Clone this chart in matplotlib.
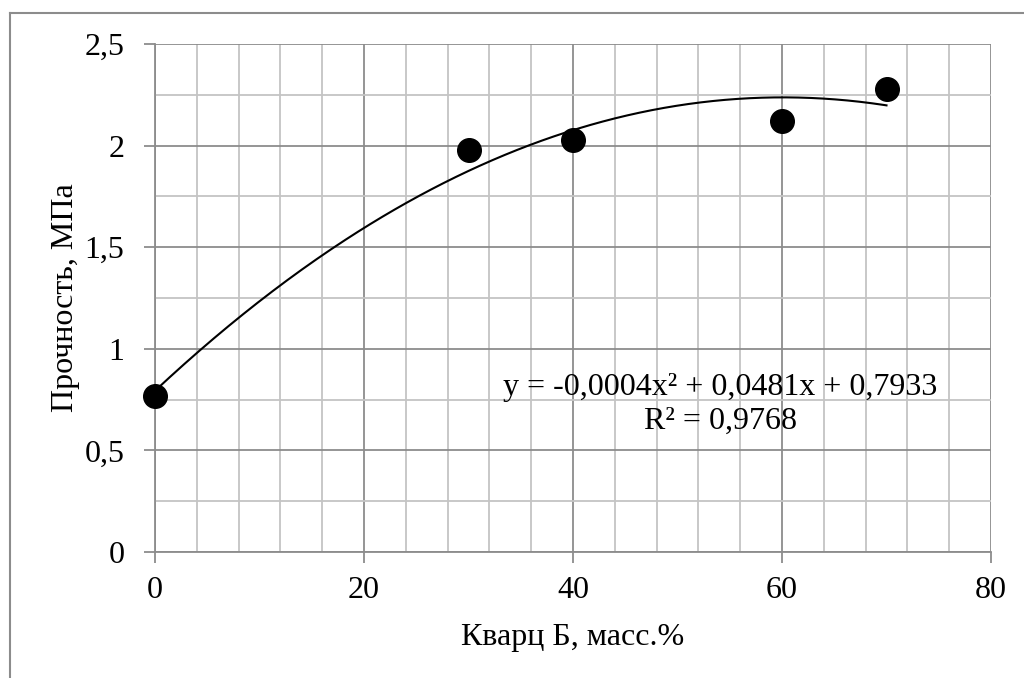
import numpy as np
import matplotlib
matplotlib.use("Agg")
import matplotlib.pyplot as plt
from matplotlib.ticker import MultipleLocator, FuncFormatter
from matplotlib.lines import Line2D

# Data
x_vals = [0, 30, 40, 60, 70]
y_vals = [0.77, 1.98, 2.03, 2.12, 2.28]
x_label = "Кварц Б, масс.%"
y_label = "Прочность, МПа"
eq_text = "y = -0,0004x² + 0,0481x + 0,7933"
r2_text = "R² = 0,9768"

plt.rcParams['font.family'] = ['Liberation Serif', 'DejaVu Serif']
FS = 23

fig = plt.figure(figsize=(10.24, 6.78), dpi=100)
ax = fig.add_axes([155/1024, 1-552/678, (991-155)/1024, (552-44)/678])

# trendline (2nd order polynomial fit)
coef = np.polyfit(x_vals, y_vals, 2)
xs = np.linspace(min(x_vals), max(x_vals), 300)
ax.plot(xs, np.polyval(coef, xs), color='black', lw=1.5, zorder=3)
ax.plot(x_vals, y_vals, 'o', color='black', ms=17, zorder=4, clip_on=False)

ax.set_xlim(0, 80)
ax.set_ylim(0, 2.5)
ax.xaxis.set_major_locator(MultipleLocator(20))
ax.xaxis.set_minor_locator(MultipleLocator(4))
ax.yaxis.set_major_locator(MultipleLocator(0.5))
ax.yaxis.set_minor_locator(MultipleLocator(0.25))

def fmt(v, pos):
    s = f"{v:g}"
    return s.replace('.', ',')
ax.xaxis.set_major_formatter(FuncFormatter(fmt))
ax.yaxis.set_major_formatter(FuncFormatter(fmt))

ax.grid(which='major', color='#8c8c8c', lw=1.3)
ax.grid(which='minor', color='#c4c4c4', lw=1.3)
ax.set_axisbelow(True)
for s in ['top', 'right']:
    ax.spines[s].set_visible(False)
for s in ['left', 'bottom']:
    ax.spines[s].set_color('#8c8c8c')
    ax.spines[s].set_linewidth(1.3)
ax.tick_params(which='major', length=8, width=1.3, color='#8c8c8c', labelsize=FS)
ax.tick_params(axis='x', pad=9)
ax.tick_params(axis='y', pad=14)
ax.tick_params(which='minor', length=0)

fig.text(573/1024, 1-638/678, x_label, ha='center', va='center', fontsize=FS)
fig.text(66/1024, 1-298/678, y_label, ha='center', va='center', rotation=90, fontsize=FS)

fig.text(720/1024, 1-388/678, eq_text, ha='center', va='center', fontsize=FS)
fig.text(720/1024, 1-421/678, r2_text, ha='center', va='center', fontsize=FS)

# outer chart border (left and top visible)
fig.add_artist(Line2D([10/1024, 10/1024], [0, 1-13/678], color='#8c8c8c', lw=1.5, transform=fig.transFigure))
fig.add_artist(Line2D([10/1024, 1], [1-13/678, 1-13/678], color='#8c8c8c', lw=1.5, transform=fig.transFigure))

fig.savefig("out.png", dpi=100)
